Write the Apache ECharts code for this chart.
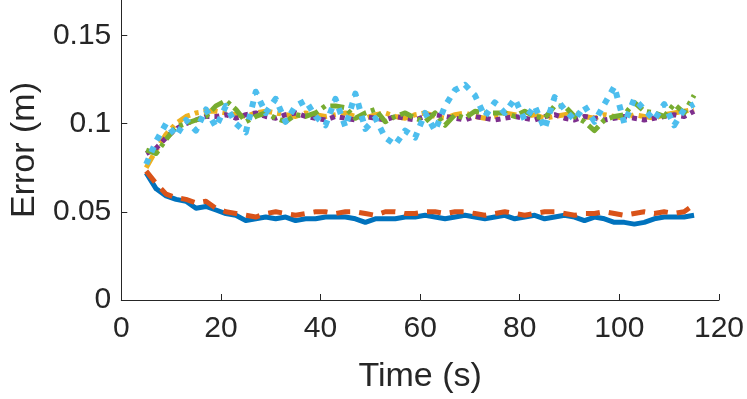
<!DOCTYPE html>
<html>
<head>
<meta charset="utf-8">
<script src="https://cdn.jsdelivr.net/npm/echarts@6/dist/echarts.min.js"></script>
<style>
  html, body { margin: 0; padding: 0; background: #fff; }
  #chart { width: 747px; height: 399px; }
</style>
</head>
<body>
<div id="chart"></div>
<script>
// time samples (s)
const times = [];
for (let t = 5; t <= 115; t += 2) times.push(t);

const yTicks = [0, 0.05, 0.1, 0.15];
const xTicks = [0, 20, 40, 60, 80, 100, 120];

const blueErr = [0.072, 0.063, 0.059, 0.057, 0.056, 0.052, 0.053, 0.051, 0.049, 0.048,
  0.045, 0.046, 0.047, 0.046, 0.047, 0.045, 0.046, 0.046, 0.047, 0.047,
  0.047, 0.046, 0.044, 0.046, 0.046, 0.046, 0.047, 0.047, 0.048, 0.047,
  0.046, 0.047, 0.048, 0.047, 0.046, 0.047, 0.048, 0.046, 0.047, 0.048,
  0.046, 0.047, 0.048, 0.047, 0.045, 0.047, 0.046, 0.044, 0.044, 0.043,
  0.044, 0.046, 0.047, 0.047, 0.047, 0.048];

const orangeErr = [0.073, 0.066, 0.060, 0.058, 0.057, 0.055, 0.056, 0.052, 0.050, 0.049,
  0.048, 0.047, 0.049, 0.050, 0.049, 0.048, 0.049, 0.050, 0.050, 0.049,
  0.050, 0.050, 0.049, 0.048, 0.050, 0.050, 0.049, 0.049, 0.050, 0.050,
  0.049, 0.050, 0.050, 0.049, 0.048, 0.049, 0.050, 0.049, 0.048, 0.049,
  0.050, 0.050, 0.049, 0.048, 0.049, 0.049, 0.050, 0.049, 0.048, 0.049,
  0.050, 0.049, 0.050, 0.049, 0.050, 0.054];

const yellowErr = [0.075, 0.085, 0.094, 0.100, 0.104, 0.106, 0.107, 0.107, 0.106, 0.105,
  0.104, 0.106, 0.107, 0.106, 0.105, 0.104, 0.106, 0.105, 0.104, 0.105,
  0.106, 0.104, 0.103, 0.105, 0.106, 0.104, 0.103, 0.105, 0.106, 0.104,
  0.103, 0.105, 0.106, 0.104, 0.103, 0.104, 0.106, 0.105, 0.104, 0.105,
  0.103, 0.104, 0.105, 0.106, 0.104, 0.103, 0.105, 0.104, 0.103, 0.105,
  0.104, 0.103, 0.105, 0.106, 0.107, 0.108];

const purpleErr = [0.083, 0.086, 0.092, 0.097, 0.100, 0.102, 0.104, 0.104, 0.105, 0.103,
  0.105, 0.106, 0.104, 0.103, 0.105, 0.106, 0.104, 0.103, 0.102, 0.104,
  0.103, 0.102, 0.104, 0.103, 0.102, 0.104, 0.103, 0.102, 0.104, 0.105,
  0.104, 0.103, 0.102, 0.104, 0.103, 0.102, 0.103, 0.104, 0.103, 0.102,
  0.104, 0.105, 0.103, 0.102, 0.104, 0.103, 0.102, 0.103, 0.104, 0.103,
  0.102, 0.103, 0.104, 0.105, 0.104, 0.107];

const greenErr = [0.085, 0.083, 0.091, 0.098, 0.100, 0.102, 0.104, 0.110, 0.113, 0.108,
  0.101, 0.104, 0.106, 0.103, 0.101, 0.105, 0.104, 0.106, 0.110, 0.110,
  0.109, 0.103, 0.106, 0.108, 0.101, 0.104, 0.106, 0.103, 0.101, 0.106,
  0.099, 0.105, 0.103, 0.107, 0.106, 0.106, 0.106, 0.104, 0.107, 0.104,
  0.103, 0.110, 0.110, 0.104, 0.101, 0.096, 0.102, 0.104, 0.105, 0.112,
  0.107, 0.106, 0.104, 0.111, 0.106, 0.116];

const cyanErr = [0.077, 0.090, 0.100, 0.093, 0.102, 0.096, 0.108, 0.098, 0.110, 0.100,
  0.095, 0.118, 0.106, 0.114, 0.101, 0.110, 0.113, 0.104, 0.099, 0.114,
  0.098, 0.117, 0.097, 0.103, 0.092, 0.088, 0.096, 0.092, 0.106, 0.096,
  0.110, 0.119, 0.122, 0.116, 0.104, 0.112, 0.106, 0.114, 0.102, 0.110,
  0.097, 0.115, 0.108, 0.102, 0.110, 0.101, 0.111, 0.121, 0.100, 0.114,
  0.108, 0.102, 0.111, 0.099, 0.108, 0.111];

const font = 'Liberation Sans, Arial, Helvetica, sans-serif';
const ink = '#262626';

function pairs(vals) {
  return vals.map((v, i) => [times[i], v]);
}

function line(vals, color, type, width) {
  return {
    type: 'line',
    data: pairs(vals),
    showSymbol: false,
    symbol: 'none',
    animation: false,
    lineStyle: { color: color, width: width, type: type, cap: 'butt', join: 'round' }
  };
}

const myChart = echarts.init(document.getElementById('chart'), null, { renderer: 'canvas' });

const option = {
  animation: false,
  backgroundColor: '#ffffff',
  grid: { left: 120, right: 28, top: 0, bottom: 98, containLabel: false },
  xAxis: {
    type: 'value',
    min: 0,
    max: 120,
    interval: 20,
    name: 'Time (s)',
    nameLocation: 'middle',
    nameGap: 60,
    nameTextStyle: { fontFamily: font, fontSize: 34, color: ink },
    axisLine: { show: true, lineStyle: { color: ink, width: 1 } },
    axisTick: { show: true, inside: true, length: 6, lineStyle: { color: ink, width: 1 }, customValues: xTicks },
    axisLabel: { fontFamily: font, fontSize: 30, color: ink, margin: 14, customValues: xTicks },
    splitLine: { show: false }
  },
  yAxis: {
    type: 'value',
    min: 0,
    max: 0.17,
    name: 'Error (m)',
    nameLocation: 'middle',
    nameGap: 77,
    nameTextStyle: { fontFamily: font, fontSize: 34, color: ink },
    axisLine: { show: true, lineStyle: { color: ink, width: 1 } },
    axisTick: { show: true, inside: true, length: 6, lineStyle: { color: ink, width: 1 }, customValues: yTicks },
    axisLabel: {
      fontFamily: font, fontSize: 30, color: ink, margin: 10, customValues: yTicks,
      formatter: v => String(parseFloat(v.toFixed(2)))
    },
    splitLine: { show: false }
  },
  series: [
    line(blueErr, '#0072BD', 'solid', 5),
    line(orangeErr, '#D95319', [14, 9], 5),
    line(yellowErr, '#EDB120', [14, 5, 4, 5], 5),
    line(purpleErr, '#7E2F8E', [5, 5], 5),
    line(greenErr, '#77AC30', [14, 5, 4, 5], 5),
    line(cyanErr, '#4DBEEE', [6, 7], 6)
  ]
};

myChart.setOption(option);
</script>
</body>
</html>
